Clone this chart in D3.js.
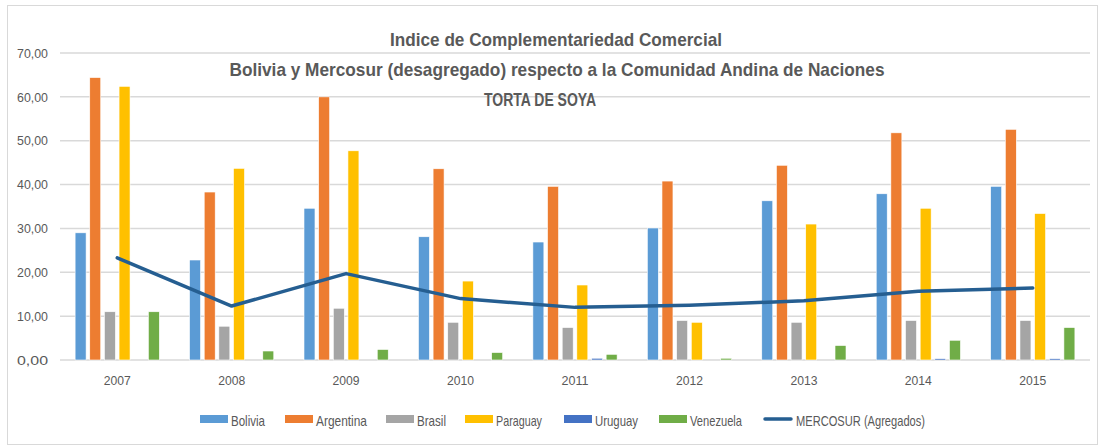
<!DOCTYPE html>
<html>
<head>
<meta charset="utf-8">
<script src="https://cdn.jsdelivr.net/npm/d3@7"></script>
<style>
  body { margin: 0; background: #fff; }
  svg { font-family: "Liberation Sans", Arial, sans-serif; }
</style>
</head>
<body>
<svg id="chart" width="1099" height="447"></svg>
<script>
// data
var years = ["2007", "2008", "2009", "2010", "2011", "2012", "2013", "2014", "2015"];
var seriesNames = ["Bolivia", "Argentina", "Brasil", "Paraguay", "Uruguay", "Venezuela"];
var bolivia   = [29.0, 22.8, 34.6, 28.1, 26.9, 30.1, 36.3, 37.9, 39.6];
var argentina = [64.4, 38.3, 60.0, 43.6, 39.6, 40.8, 44.4, 51.8, 52.6];
var brasil    = [11.0, 7.7, 11.8, 8.6, 7.4, 9.0, 8.6, 9.0, 9.0];
var paraguay  = [62.4, 43.7, 47.7, 18.0, 17.1, 8.6, 31.0, 34.6, 33.4];
var uruguay   = [0.0, 0.0, 0.0, 0.0, 0.4, 0.0, 0.0, 0.3, 0.3];
var venezuela = [11.0, 2.05, 2.4, 1.7, 1.3, 0.4, 3.3, 4.5, 7.4];
var mercosur  = [23.3, 12.3, 19.7, 14.0, 12.0, 12.5, 13.5, 15.7, 16.4];
var lineName = "MERCOSUR (Agregados)";
var yTicks = [0, 10, 20, 30, 40, 50, 60, 70];
var titleLines = [
  "Indice de Complementariedad Comercial",
  "Bolivia y Mercosur (desagregado) respecto a la Comunidad Andina de Naciones",
  "TORTA DE SOYA"
];

var colors = ["#5B9BD5", "#ED7D31", "#A5A5A5", "#FFC000", "#4472C4", "#70AD47"];
var lineColor = "#255E91";
var values = [bolivia, argentina, brasil, paraguay, uruguay, venezuela];

var m = { top: 53, right: 9, bottom: 87, left: 60 };
var W = 1099, H = 447;
var w = W - m.left - m.right;
var h = H - m.top - m.bottom;

var svg = d3.select("#chart");

// the reference font is condensed, squeeze text to its width
function squeeze(sel, width) {
  sel.attr("textLength", width).attr("lengthAdjust", "spacingAndGlyphs");
}

// chart frame
svg.append("rect")
  .attr("x", 7.5).attr("y", 5.5)
  .attr("width", W - 9).attr("height", H - 8)
  .attr("fill", "#fff").attr("stroke", "#D9D9D9").attr("stroke-width", 1);

var x0 = d3.scaleBand().domain(years).range([0, w]).paddingInner(0.2).paddingOuter(0.1);
var x1 = d3.scaleBand().domain(seriesNames).range([0, x0.bandwidth()]).padding(0.25);
var y = d3.scaleLinear().domain([0, 70]).range([h, 0]);

var g = svg.append("g").attr("transform", "translate(" + m.left + "," + m.top + ")");

// gridlines
g.append("g")
  .selectAll("line")
  .data(yTicks)
  .enter().append("line")
  .attr("x1", 0).attr("x2", w)
  .attr("y1", function(d) { return y(d); })
  .attr("y2", function(d) { return y(d); })
  .attr("stroke", "#D9D9D9")
  .attr("stroke-width", 1.5);

// y axis labels
var yAxis = d3.axisLeft(y).tickValues(yTicks)
  .tickFormat(function(d) { return d3.format(".2f")(d).replace(".", ","); })
  .tickSize(0).tickPadding(12);
g.append("g").call(yAxis)
  .call(function(s) { s.select(".domain").remove(); })
  .selectAll("text")
  .attr("fill", "#595959")
  .style("font-size", "13px")
  .style("font-family", "Liberation Sans, sans-serif")
  .call(squeeze, 31);

// x axis labels
var xAxis = d3.axisBottom(x0).tickSize(0).tickPadding(16);
g.append("g").attr("transform", "translate(0," + h + ")").call(xAxis)
  .call(function(s) { s.select(".domain").remove(); })
  .selectAll("text")
  .attr("fill", "#595959")
  .style("font-size", "13px")
  .style("font-family", "Liberation Sans, sans-serif")
  .call(squeeze, 27);

// bars
var groups = g.selectAll(".year")
  .data(years)
  .enter().append("g")
  .attr("class", "year")
  .attr("transform", function(d) { return "translate(" + x0(d) + ",0)"; });

groups.selectAll("rect")
  .data(function(d, i) {
    return seriesNames.map(function(s, j) { return { s: s, v: values[j][i], c: colors[j] }; });
  })
  .enter().append("rect")
  .filter(function(d) { return d.v > 0; })
  .attr("x", function(d) { return x1(d.s); })
  .attr("y", function(d) { return y(d.v); })
  .attr("width", x1.bandwidth())
  .attr("height", function(d) { return h - y(d.v); })
  .attr("fill", function(d) { return d.c; })
  .attr("stroke", "#fff")
  .attr("stroke-width", 0.6);

// line
var line = d3.line()
  .x(function(d, i) { return x0(years[i]) + x0.bandwidth() / 2; })
  .y(function(d) { return y(d); });

g.append("path")
  .attr("d", line(mercosur))
  .attr("fill", "none")
  .attr("stroke", lineColor)
  .attr("stroke-width", 3.5)
  .attr("stroke-linejoin", "round")
  .attr("stroke-linecap", "round");

// title
var titleX = [556, 557, 540];
var titleW = [332, 655, 112];
svg.append("g").selectAll("text")
  .data(titleLines)
  .enter().append("text")
  .attr("x", function(d, i) { return titleX[i]; })
  .attr("y", function(d, i) { return 46 + i * 30; })
  .attr("text-anchor", "middle")
  .attr("fill", "#595959")
  .style("font-size", "19px")
  .style("font-weight", "bold")
  .attr("textLength", function(d, i) { return titleW[i]; })
  .attr("lengthAdjust", "spacingAndGlyphs")
  .text(function(d) { return d; });

// legend
var legendX = [200, 285, 386, 465, 564, 659];
var legendW = [34, 51, 29, 46, 43, 52];
var leg = svg.append("g");
seriesNames.forEach(function(s, i) {
  leg.append("rect")
    .attr("x", legendX[i]).attr("y", 415)
    .attr("width", 28).attr("height", 8)
    .attr("fill", colors[i]);
  leg.append("text")
    .attr("x", legendX[i] + 31).attr("y", 426)
    .attr("fill", "#595959")
    .style("font-size", "15px")
    .call(squeeze, legendW[i])
    .text(s);
});
leg.append("line")
  .attr("x1", 765).attr("x2", 791)
  .attr("y1", 419).attr("y2", 419)
  .attr("stroke", lineColor).attr("stroke-width", 3.5).attr("stroke-linecap", "round");
leg.append("text")
  .attr("x", 796).attr("y", 426)
  .attr("fill", "#595959")
  .style("font-size", "15px")
  .call(squeeze, 129)
  .text(lineName);
</script>
</body>
</html>
